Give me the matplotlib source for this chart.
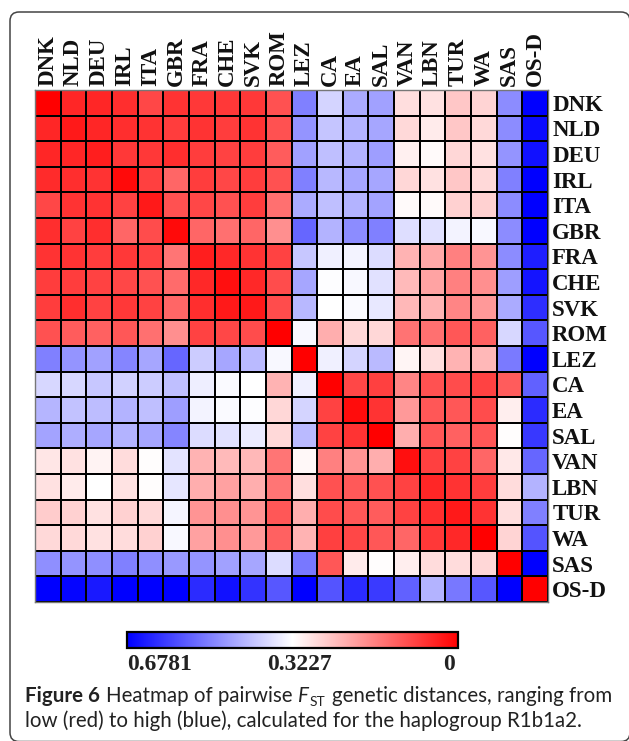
import numpy as np
import matplotlib
matplotlib.use("Agg")
import matplotlib.pyplot as plt
from matplotlib.colors import TwoSlopeNorm, LinearSegmentedColormap
from matplotlib.cm import ScalarMappable
from matplotlib.patches import FancyBboxPatch

W, H = 629, 741
labels = ["DNK","NLD","DEU","IRL","ITA","GBR","FRA","CHE","SVK","ROM","LEZ","CA","EA","SAL","VAN","LBN","TUR","WA","SAS","OS-D"]

# Colour strength read from each cell: + towards red, - towards blue (percent)
tint = np.array([
[100,85,85,82,72,80,78,78,78,68,-50,-17,-33,-37,13,12,22,17,-45,-100],
[85,90,85,82,80,76,80,76,80,68,-42,-23,-30,-35,15,8,22,15,-45,-95],
[85,85,88,78,78,82,76,74,76,64,-37,-25,-30,-38,6,2,16,12,-42,-93],
[83,82,80,96,75,60,76,72,76,68,-50,-28,-35,-35,16,12,22,15,-50,-100],
[72,80,80,74,90,68,72,68,76,56,-33,-25,-30,-36,2,2,18,18,-45,-100],
[82,74,82,60,70,96,60,56,60,44,-60,-30,-45,-50,-13,-12,-5,-3,-45,-100],
[80,80,76,78,74,54,88,84,80,74,-22,-6,-5,-14,30,34,50,42,-45,-88],
[76,76,74,72,68,58,84,94,84,70,-35,-1,-3,-12,27,36,50,44,-38,-92],
[76,82,74,78,74,60,82,90,90,70,-28,0,-2,-9,28,30,48,40,-33,-82],
[68,64,62,66,56,44,74,72,70,100,-3,32,16,16,55,56,66,62,-16,-66],
[-50,-42,-37,-48,-35,-60,-20,-35,-27,-3,100,-6,-17,-27,4,13,30,28,-52,-100],
[-16,-16,-22,-18,-20,-25,-7,-2,0,30,-6,100,72,75,48,68,70,74,64,-62],
[-29,-24,-26,-30,-25,-38,-5,-2,-1,16,-17,74,95,80,40,66,66,70,7,-83],
[-36,-32,-35,-30,-35,-48,-14,-12,-8,15,-27,74,80,100,32,66,62,66,1,-78],
[10,12,5,14,1,-11,30,27,28,54,3,50,42,32,94,75,74,60,9,-60],
[12,8,0,11,1,-10,32,37,32,54,13,68,65,68,74,85,80,76,14,-30],
[20,18,12,18,15,-4,42,44,42,66,32,70,66,64,74,82,90,80,13,-50],
[15,15,12,14,18,-3,37,44,40,62,30,75,72,66,60,78,84,100,17,-67],
[-44,-42,-44,-50,-44,-40,-42,-37,-35,-14,-53,66,8,1,7,14,14,16,100,-100],
[-100,-98,-90,-100,-100,-100,-83,-93,-80,-66,-100,-67,-83,-77,-62,-30,-53,-66,-100,100],
], dtype=float)

FST_MIN, FST_MID, FST_MAX = 0.0, 0.3227, 0.6781
fst = np.where(tint >= 0,
               FST_MID * (1 - tint / 100),
               FST_MID + (FST_MAX - FST_MID) * (-tint / 100))

cmap = LinearSegmentedColormap.from_list("rwb", ["#ff0000", "#ffffff", "#0000ff"], N=512)
norm = TwoSlopeNorm(vmin=FST_MIN, vcenter=FST_MID, vmax=FST_MAX)

fig = plt.figure(figsize=(W / 100, H / 100), dpi=100, facecolor="white")

def box(x0, y0, x1, y1):
    return [x0 / W, 1 - y1 / H, (x1 - x0) / W, (y1 - y0) / H]

# rounded panel, its right and bottom edges run off the picture
bg = fig.add_axes([0, 0, 1, 1], zorder=0)
bg.set_xlim(0, W); bg.set_ylim(H, 0); bg.axis("off")
bg.add_patch(FancyBboxPatch((10, 12), W - 9, H - 11.5,
                            boxstyle="round,pad=0,rounding_size=9",
                            fc="white", ec="#444444", lw=1.1))

# heat map
ax = fig.add_axes(box(35, 90, 548, 602), zorder=1)
n = len(labels)
ax.pcolormesh(np.arange(n + 1), np.arange(n + 1), fst, cmap=cmap, norm=norm,
              edgecolors="black", linewidth=1.4)
ax.set_xlim(0, n); ax.set_ylim(n, 0)
ax.set_xticks(np.arange(n) + 0.5, labels, rotation=90)
ax.set_yticks(np.arange(n) + 0.5, labels)
ax.xaxis.tick_top(); ax.yaxis.tick_right()
ax.tick_params(length=0, pad=3)
for t in ax.get_xticklabels() + ax.get_yticklabels():
    t.set_fontfamily("Liberation Serif")
    t.set_fontweight("bold")
    t.set_fontsize(16.5)
    t.set_color("#111111")
for s in ax.spines.values():
    s.set_color("#777777"); s.set_linewidth(1.0)

# colour bar
cax = fig.add_axes(box(127, 632, 458, 648), zorder=1)
cb = fig.colorbar(ScalarMappable(norm=norm, cmap=cmap), cax=cax, orientation="horizontal")
cax.invert_xaxis()
cb.set_ticks([])
cb.minorticks_off()
cb.outline.set_edgecolor("black"); cb.outline.set_linewidth(1.6)

bar_texts = [(160, "0.6781"), (300, "0.3227"), (449, "0")]
for x, s in bar_texts:
    bg.text(x, 664, s, family="Liberation Serif", weight="bold", fontsize=17,
            ha="center", va="center", color="#222222")

# caption
cap_color = "#222222"
cap = dict(family="Lato", fontsize=14.8, color=cap_color, va="baseline")
fig.canvas.draw()
r = fig.canvas.get_renderer()
def chain(x, y, s, **kw):
    opts = dict(cap); opts.update(kw)
    t = bg.text(x, y, s, **opts)
    return x + t.get_window_extent(r).width

x = chain(25, 702, "Figure 6", weight="bold")
x += 6
x = chain(x, 702, "Heatmap of pairwise")
x += 6
x = chain(x, 702, "F", style="italic")
x = chain(x + 0.5, 706, "ST", fontsize=10)
x += 6
chain(x, 702, "genetic distances, ranging from")
chain(25, 727, "low (red) to high (blue), calculated for the haplogroup R1b1a2.")

fig.savefig("out.png", dpi=100)
